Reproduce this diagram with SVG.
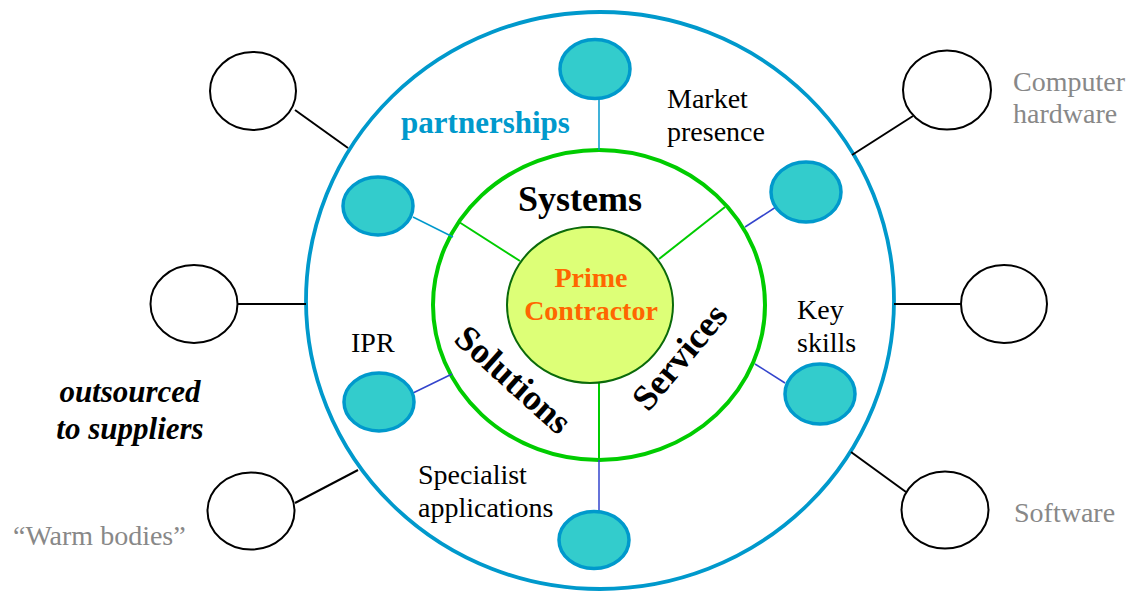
<svg xmlns="http://www.w3.org/2000/svg" width="1131" height="592" viewBox="0 0 1131 592">
  <style>
    .label { font-family: "Liberation Serif", "Times New Roman", serif; font-size: 28px; fill: #000; }
    .grey { fill: #888888; }
    .ring-bold { font-family: "Liberation Serif", "Times New Roman", serif; font-size: 36px; font-weight: bold; fill: #000; }
    .supplier { fill: #fff; stroke: #000; stroke-width: 2; }
    .partner { fill: #33CCCC; stroke: #0099CC; stroke-width: 3.5; }
    .link-black { stroke: #000; stroke-width: 2; fill: none; }
    .link-sky { stroke: #0099CC; stroke-width: 1.5; fill: none; }
    .link-blue { stroke: #3344CC; stroke-width: 1.5; fill: none; }
    .spoke { stroke: #00CC00; stroke-width: 2; fill: none; }
  </style>

  <!-- rings -->
  <g id="outer-ring">
    <ellipse cx="600" cy="300.5" rx="294" ry="288.5" fill="none" stroke="#0099CC" stroke-width="3.8"/>
  </g>
  <g id="inner-ring">
    <ellipse cx="599" cy="305" rx="166" ry="155" fill="none" stroke="#00CC00" stroke-width="4"/>
  </g>

  <!-- connectors -->
  <g id="connectors">
    <!-- suppliers to outer ring -->
    <line class="link-black" x1="295" y1="110" x2="348" y2="148"/>
    <line class="link-black" x1="238" y1="304" x2="306" y2="304"/>
    <line class="link-black" x1="295" y1="503" x2="358" y2="470"/>
    <line class="link-black" x1="913" y1="116" x2="852" y2="155"/>
    <line class="link-black" x1="894" y1="304" x2="962" y2="304"/>
    <line class="link-black" x1="851" y1="452" x2="906" y2="492"/>
    <!-- partners to inner ring -->
    <line class="link-sky" x1="599" y1="99" x2="599" y2="150"/>
    <line class="link-sky" x1="413" y1="217" x2="453" y2="237"/>
    <line class="link-blue" x1="776" y1="207" x2="745" y2="227"/>
    <line class="link-blue" x1="785" y1="383" x2="755" y2="364"/>
    <line class="link-blue" x1="413" y1="393" x2="452" y2="374"/>
    <line class="link-blue" x1="599" y1="460" x2="599" y2="512"/>
    <!-- sector dividers -->
    <line class="spoke" x1="459" y1="222" x2="520" y2="261"/>
    <line class="spoke" x1="659" y1="259" x2="725" y2="207"/>
    <line class="spoke" x1="599" y1="383" x2="599" y2="460"/>
  </g>

  <!-- centre -->
  <g id="prime-contractor">
    <ellipse cx="590" cy="305" rx="83" ry="78" fill="#DDFF77" stroke="#0A6A0A" stroke-width="2"/>
    <text x="591" y="287" text-anchor="middle" font-family="Liberation Serif, Times New Roman, serif" font-size="28" font-weight="bold" fill="#FF6600">Prime</text>
    <text x="591" y="320" text-anchor="middle" font-family="Liberation Serif, Times New Roman, serif" font-size="28" font-weight="bold" fill="#FF6600">Contractor</text>
  </g>

  <!-- sector titles -->
  <g id="sector-systems">
    <text class="ring-bold" x="580" y="211" text-anchor="middle">Systems</text>
  </g>
  <g id="sector-solutions">
    <text class="ring-bold" transform="translate(512,381) rotate(42)" x="0" y="10" text-anchor="middle">Solutions</text>
  </g>
  <g id="sector-services">
    <text class="ring-bold" transform="translate(681,358) rotate(-50)" x="0" y="10" text-anchor="middle">Services</text>
  </g>

  <!-- partner nodes -->
  <g id="partner-market">
    <ellipse class="partner" cx="595" cy="69" rx="35" ry="29.5"/>
    <text class="label" x="667" y="108">Market</text>
    <text class="label" x="667" y="141">presence</text>
  </g>
  <g id="partner-upper-left">
    <ellipse class="partner" cx="378" cy="206" rx="35" ry="29"/>
  </g>
  <g id="partner-upper-right">
    <ellipse class="partner" cx="806" cy="192" rx="35" ry="30"/>
  </g>
  <g id="partner-key-skills">
    <ellipse class="partner" cx="820" cy="394" rx="35" ry="30"/>
    <text class="label" x="797" y="319">Key</text>
    <text class="label" x="797" y="352">skills</text>
  </g>
  <g id="partner-ipr">
    <ellipse class="partner" cx="379" cy="402" rx="35" ry="29"/>
    <text class="label" x="351" y="352">IPR</text>
  </g>
  <g id="partner-specialist">
    <ellipse class="partner" cx="594" cy="540" rx="35" ry="28.5"/>
    <text class="label" x="418" y="484">Specialist</text>
    <text class="label" x="418" y="517">applications</text>
  </g>

  <text x="485.5" y="133" text-anchor="middle" font-family="Liberation Serif, Times New Roman, serif" font-size="31" font-weight="bold" fill="#0099CC">partnerships</text>

  <!-- supplier nodes -->
  <g id="supplier-top-left">
    <ellipse class="supplier" cx="253" cy="91" rx="43" ry="39"/>
  </g>
  <g id="supplier-mid-left">
    <ellipse class="supplier" cx="194" cy="304" rx="43.5" ry="39"/>
  </g>
  <g id="supplier-warm-bodies">
    <ellipse class="supplier" cx="251" cy="511" rx="43.5" ry="38.5"/>
    <text class="label grey" x="13" y="545">“Warm bodies”</text>
  </g>
  <g id="supplier-hardware">
    <ellipse class="supplier" cx="947" cy="90" rx="44" ry="39.5"/>
    <text class="label grey" x="1013" y="91">Computer</text>
    <text class="label grey" x="1013" y="123">hardware</text>
  </g>
  <g id="supplier-mid-right">
    <ellipse class="supplier" cx="1004" cy="304" rx="43" ry="39"/>
  </g>
  <g id="supplier-software">
    <ellipse class="supplier" cx="945" cy="510" rx="43.5" ry="38.5"/>
    <text class="label grey" x="1014" y="522">Software</text>
  </g>

  <g id="outsourced-caption">
    <text x="130" y="402" text-anchor="middle" font-family="Liberation Serif, Times New Roman, serif" font-size="31" font-weight="bold" font-style="italic" fill="#000">outsourced</text>
    <text x="130" y="439" text-anchor="middle" font-family="Liberation Serif, Times New Roman, serif" font-size="31" font-weight="bold" font-style="italic" fill="#000">to suppliers</text>
  </g>
</svg>
